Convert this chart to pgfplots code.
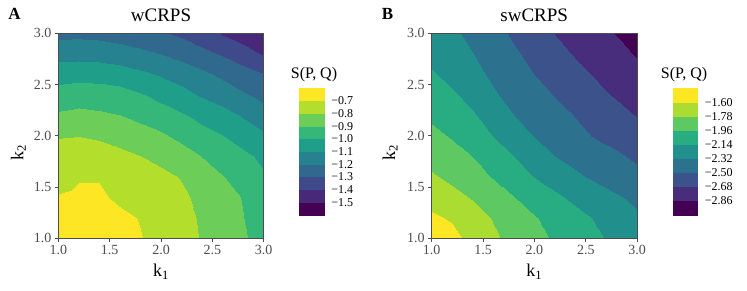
\documentclass[border=0pt]{standalone}
\usepackage{fontspec}
\setmainfont{Liberation Serif}
\usepackage{pgfplots}
\pgfplotsset{compat=1.18}
\definecolor{axgray}{HTML}{4D4D4D}

\pgfplotsset{
  panel/.style={
    scale only axis, width=205.4pt, height=205pt,
    view={0}{90},
    xmin=1, xmax=3, ymin=1, ymax=3,
    xtick={1,1.5,2,2.5,3}, xticklabels={1.0,1.5,2.0,2.5,3.0},
    ytick={1,1.5,2,2.5,3}, yticklabels={1.0,1.5,2.0,2.5,3.0},
    ztick=\empty,
    tick pos=left,
    tick align=outside,
    major tick length=3.5pt,
    tick style={axgray, line width=0.8pt},
    axis line style={axgray, line width=0.8pt},
    ticklabel style={font=\fontsize{14}{14}\selectfont, text=axgray},
    axis on top,
    colorbar,
  },
  cbar/.style={
    at={(parent axis.south east)}, anchor=south west,
    xshift=27pt, yshift=23.3pt,
    scale only axis, width=25.7pt, height=127pt,
    axis line style={draw=none},
    major tick length=0pt,
    yticklabel style={font=\fontsize{12}{12}\selectfont, text=black, xshift=3pt},
  },
}

\begin{document}
\begin{tikzpicture}[x=1pt,y=1pt]
\path[use as bounding box] (0,0) rectangle (747,290);

% ---------------- Panel A ----------------
\begin{axis}[panel,
  at={(58.3pt,51.7pt)}, anchor=south west,
  colormap={vA}{rgb255=(68,1,84) rgb255=(72,40,120) rgb255=(62,74,137) rgb255=(49,104,142)
    rgb255=(38,130,142) rgb255=(31,158,137) rgb255=(53,183,121) rgb255=(109,205,89)
    rgb255=(180,222,44) rgb255=(253,231,37)},
  point meta min=-1.6, point meta max=-0.6,
  colormap access=piecewise constant,
  colorbar style={cbar,
    ytick={-1.5,-1.4,-1.3,-1.2,-1.1,-1.0,-0.9,-0.8,-0.7},
    yticklabels={−1.5,−1.4,−1.3,−1.2,−1.1,−1.0,−0.9,−0.8,−0.7}},
]
\addplot3[contour filled={number=10}, mesh/rows=11, mesh/cols=11] table {
x y z
1.0 1.0 -0.66
1.2 1.0 -0.65
1.4 1.0 -0.65
1.6 1.0 -0.67
1.8 1.0 -0.695
2.0 1.0 -0.733
2.2 1.0 -0.77
2.4 1.0 -0.806
2.6 1.0 -0.848
2.8 1.0 -0.89
3.0 1.0 -0.935
1.0 1.2 -0.655
1.2 1.2 -0.645
1.4 1.2 -0.65
1.6 1.2 -0.672
1.8 1.2 -0.705
2.0 1.2 -0.74
2.2 1.2 -0.775
2.4 1.2 -0.81
2.6 1.2 -0.853
2.8 1.2 -0.898
3.0 1.2 -0.945
1.0 1.4 -0.693
1.2 1.4 -0.678
1.4 1.4 -0.68
1.6 1.4 -0.725
1.8 1.4 -0.745
2.0 1.4 -0.765
2.2 1.4 -0.787
2.4 1.4 -0.82
2.6 1.4 -0.862
2.8 1.4 -0.905
3.0 1.4 -0.952
1.0 1.6 -0.74
1.2 1.6 -0.708
1.4 1.6 -0.708
1.6 1.6 -0.735
1.8 1.6 -0.755
2.0 1.6 -0.78
2.2 1.6 -0.805
2.4 1.6 -0.85
2.6 1.6 -0.897
2.8 1.6 -0.94
3.0 1.6 -0.99
1.0 1.8 -0.77
1.2 1.8 -0.76
1.4 1.8 -0.765
1.6 1.8 -0.78
1.8 1.8 -0.799
2.0 1.8 -0.823
2.2 1.8 -0.86
2.4 1.8 -0.903
2.6 1.8 -0.94
2.8 1.8 -0.98
3.0 1.8 -1.02
1.0 2.0 -0.805
1.2 2.0 -0.801
1.4 2.0 -0.81
1.6 2.0 -0.83
1.8 2.0 -0.86
2.0 2.0 -0.885
2.2 2.0 -0.925
2.4 2.0 -0.965
2.6 2.0 -0.998
2.8 2.0 -1.04
3.0 2.0 -1.085
1.0 2.2 -0.887
1.2 2.2 -0.875
1.4 2.2 -0.885
1.6 2.2 -0.90
1.8 2.2 -0.925
2.0 2.2 -0.955
2.2 2.2 -0.99
2.4 2.2 -1.03
2.6 2.2 -1.065
2.8 2.2 -1.11
3.0 2.2 -1.16
1.0 2.4 -0.96
1.2 2.4 -0.946
1.4 2.4 -0.95
1.6 2.4 -0.96
1.8 2.4 -0.99
2.0 2.4 -1.03
2.2 2.4 -1.07
2.4 2.4 -1.11
2.6 2.4 -1.15
2.8 2.4 -1.188
3.0 2.4 -1.225
1.0 2.6 -1.044
1.2 2.6 -1.035
1.4 2.6 -1.04
1.6 2.6 -1.055
1.8 2.6 -1.08
2.0 2.6 -1.11
2.2 2.6 -1.14
2.4 2.6 -1.18
2.6 2.6 -1.22
2.8 2.6 -1.26
3.0 2.6 -1.299
1.0 2.8 -1.1375
1.2 2.8 -1.135
1.4 2.8 -1.14
1.6 2.8 -1.155
1.8 2.8 -1.175
2.0 2.8 -1.201
2.2 2.8 -1.235
2.4 2.8 -1.27
2.6 2.8 -1.31
2.8 2.8 -1.355
3.0 2.8 -1.41
1.0 3.0 -1.227
1.2 3.0 -1.225
1.4 3.0 -1.23
1.6 3.0 -1.245
1.8 3.0 -1.265
2.0 3.0 -1.29
2.2 3.0 -1.32
2.4 3.0 -1.365
2.6 3.0 -1.41
2.8 3.0 -1.45
3.0 3.0 -1.49
};
\end{axis}

% ---------------- Panel B ----------------
\begin{axis}[panel,
  at={(431.7pt,51.7pt)}, anchor=south west,
  colormap={vB}{rgb255=(68,1,84) rgb255=(71,45,123) rgb255=(59,82,139) rgb255=(44,114,142)
    rgb255=(33,144,140) rgb255=(39,173,129) rgb255=(94,201,98) rgb255=(170,220,50)
    rgb255=(253,231,37)},
  point meta min=-3.04, point meta max=-1.42,
  colormap access=piecewise constant,
  colorbar style={cbar,
    ytick={-2.86,-2.68,-2.50,-2.32,-2.14,-1.96,-1.78,-1.60},
    yticklabels={−2.86,−2.68,−2.50,−2.32,−2.14,−1.96,−1.78,−1.60}},
]
\addplot3[contour filled={number=9}, mesh/rows=11, mesh/cols=11] table {
x y z
1.0 1.0 -1.47
1.2 1.0 -1.554
1.4 1.0 -1.654
1.6 1.0 -1.751
1.8 1.0 -1.833
2.0 1.0 -1.909
2.2 1.0 -1.982
2.4 1.0 -2.049
2.6 1.0 -2.116
2.8 1.0 -2.179
3.0 1.0 -2.239
1.0 1.2 -1.572
1.2 1.2 -1.617
1.4 1.2 -1.704
1.6 1.2 -1.79
1.8 1.2 -1.868
2.0 1.2 -1.946
2.2 1.2 -2.017
2.4 1.2 -2.085
2.6 1.2 -2.154
2.8 1.2 -2.222
3.0 1.2 -2.29
1.0 1.4 -1.667
1.2 1.4 -1.73
1.4 1.4 -1.796
1.6 1.4 -1.878
1.8 1.4 -1.958
2.0 1.4 -2.035
2.2 1.4 -2.11
2.4 1.4 -2.178
2.6 1.4 -2.241
2.8 1.4 -2.304
3.0 1.4 -2.36
1.0 1.6 -1.76
1.2 1.6 -1.817
1.4 1.6 -1.893
1.6 1.6 -1.969
1.8 1.6 -2.054
2.0 1.6 -2.141
2.2 1.6 -2.215
2.4 1.6 -2.29
2.6 1.6 -2.35
2.8 1.6 -2.40
3.0 1.6 -2.45
1.0 1.8 -1.841
1.2 1.8 -1.902
1.4 1.8 -1.964
1.6 1.8 -2.052
1.8 1.8 -2.141
2.0 1.8 -2.23
2.2 1.8 -2.321
2.4 1.8 -2.371
2.6 1.8 -2.423
2.8 1.8 -2.474
3.0 1.8 -2.535
1.0 2.0 -1.919
1.2 2.0 -1.973
1.4 2.0 -2.056
1.6 2.0 -2.141
1.8 2.0 -2.23
2.0 2.0 -2.321
2.2 2.0 -2.387
2.4 2.0 -2.453
2.6 2.0 -2.515
2.8 2.0 -2.564
3.0 2.0 -2.613
1.0 2.2 -1.992
1.2 2.2 -2.058
1.4 2.2 -2.124
1.6 2.2 -2.217
1.8 2.2 -2.321
2.0 2.2 -2.382
2.2 2.2 -2.444
2.4 2.2 -2.506
2.6 2.2 -2.567
2.8 2.2 -2.628
3.0 2.2 -2.689
1.0 2.4 -2.059
1.2 2.4 -2.115
1.4 2.4 -2.197
1.6 2.4 -2.299
1.8 2.4 -2.373
2.0 2.4 -2.44
2.2 2.4 -2.507
2.4 2.4 -2.572
2.6 2.4 -2.637
2.8 2.4 -2.698
3.0 2.4 -2.751
1.0 2.6 -2.126
1.2 2.6 -2.192
1.4 2.6 -2.272
1.6 2.6 -2.35
1.8 2.6 -2.425
2.0 2.6 -2.501
2.2 2.6 -2.567
2.4 2.6 -2.633
2.6 2.6 -2.697
2.8 2.6 -2.755
3.0 2.6 -2.812
1.0 2.8 -2.187
1.2 2.8 -2.252
1.4 2.8 -2.317
1.6 2.8 -2.396
1.8 2.8 -2.476
2.0 2.8 -2.55
2.2 2.8 -2.622
2.4 2.8 -2.692
2.6 2.8 -2.752
2.8 2.8 -2.812
3.0 2.8 -2.873
1.0 3.0 -2.247
1.2 3.0 -2.295
1.4 3.0 -2.36
1.6 3.0 -2.445
1.8 3.0 -2.528
2.0 3.0 -2.608
2.2 3.0 -2.686
2.4 3.0 -2.747
2.6 3.0 -2.808
2.8 3.0 -2.869
3.0 3.0 -2.93
};
\end{axis}

% ---------------- texts ----------------
\node[font=\fontsize{17}{17}\selectfont\bfseries, anchor=base west, inner sep=0] at (8.3,270.7) {A};
\node[font=\fontsize{17}{17}\selectfont\bfseries, anchor=base west, inner sep=0] at (381.7,270.7) {B};
\node[font=\fontsize{19}{19}\selectfont, anchor=base, inner sep=0] at (161,268.3) {wCRPS};
\node[font=\fontsize{19}{19}\selectfont, anchor=base, inner sep=0] at (534.2,268.3) {swCRPS};
\node[font=\fontsize{16}{16}\selectfont, anchor=base west, inner sep=0] at (290.7,212) {S(P, Q)};
\node[font=\fontsize{16}{16}\selectfont, anchor=base west, inner sep=0] at (660.7,212) {S(P, Q)};
\node[font=\fontsize{18}{18}\selectfont, anchor=base, inner sep=0] at (161,13.3) {k\textsubscript{1}};
\node[font=\fontsize{18}{18}\selectfont, anchor=base, inner sep=0] at (534.2,13.3) {k\textsubscript{1}};
\node[font=\fontsize{18}{18}\selectfont, anchor=base, inner sep=0, rotate=90] at (23.3,137) {k\textsubscript{2}};
\node[font=\fontsize{18}{18}\selectfont, anchor=base, inner sep=0, rotate=90] at (395,137) {k\textsubscript{2}};
\end{tikzpicture}
\end{document}
